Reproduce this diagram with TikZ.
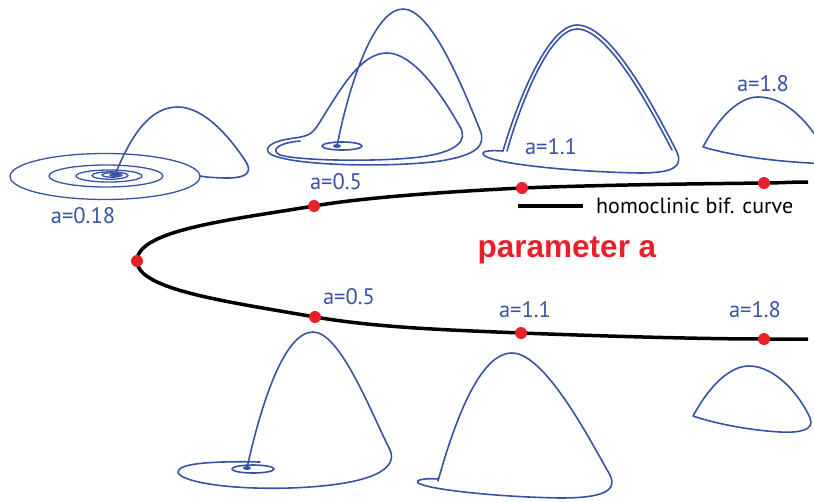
\documentclass[tikz,border=0pt]{standalone}
\usepackage{fontspec}
\setsansfont{PT Sans}
\newfontfamily\helvbold{Liberation Sans}
\usetikzlibrary{positioning}
\definecolor{orbitblue}{HTML}{3953A4}
\definecolor{dotred}{HTML}{E8202A}

\begin{document}
\begin{tikzpicture}[
  x=1pt, y=-1pt,
  orbit/.style={draw=orbitblue, line width=1.6pt, line join=round, line cap=round},
  spiral/.style={draw=orbitblue, line width=1.3pt},
  avalue/.style={text=orbitblue, font=\sffamily\fontsize{22.5}{26}\selectfont, inner sep=0pt},
  bifdot/.style={circle, fill=dotred, inner sep=0pt, minimum size=12pt},
  bifcurve/.style={draw=black, line width=3.5pt},
]
  \useasboundingbox (0,0) rectangle (814,501);

  % points on the homoclinic curve
  \coordinate (uEnd) at (808,182);
  \coordinate (u18)  at (764,183);
  \coordinate (u11)  at (522,188);
  \coordinate (u05)  at (314,206);
  \coordinate (tip)  at (137,261);
  \coordinate (l05)  at (315,317);
  \coordinate (l11)  at (521,333);
  \coordinate (l18)  at (764,339);
  \coordinate (lEnd) at (808,339);

  \draw[bifcurve] (uEnd) .. controls (790,182) and (780,183) .. (u18)
    .. controls (680,184) and (600,185) .. (u11)
    .. controls (440,192) and (360,198) .. (u05)
    .. controls (230,220) and (137,230) .. (tip)
    .. controls (137,290) and (230,302) .. (l05)
    .. controls (380,328) and (450,330) .. (l11)
    .. controls (600,336) and (700,339) .. (l18) -- (lEnd);

  \foreach \p in {u18, u11, u05, tip, l05, l11, l18}
    \node[bifdot] (dot-\p) at (\p) {};

  % legend
  \coordinate (legStart) at (518,206);
  \coordinate (legEnd) at (583,206);
  \draw[bifcurve] (legStart) -- (legEnd);
  \node[anchor=west, inner sep=0pt, font=\sffamily\fontsize{22}{26}\selectfont,
    right=13pt of legEnd] (legend) {homoclinic bif. curve};

  \node[text=dotred, font=\helvbold\bfseries\fontsize{31.5}{36}\selectfont,
    inner sep=0pt] (param) at (567,250) {parameter a};

  % orbit a=0.18
  \draw[spiral] (105,176.5) ellipse[x radius=95, y radius=23];
  \draw[spiral] (106,176) ellipse[x radius=57, y radius=11];
  \draw[spiral] (109,176) ellipse[x radius=33, y radius=6];
  \draw[spiral] (110,175.5) ellipse[x radius=18, y radius=3.7];
  \draw[spiral] (112,175) ellipse[x radius=10, y radius=2.2];
  \fill[orbitblue] (115,175) ellipse[x radius=6, y radius=2];
  \draw[orbit] (115,175) .. controls (135,125) and (155,107) .. (178,107)
    .. controls (205,107) and (232,140) .. (246,162)
    .. controls (253,173) and (245,178) .. (228,178)
    .. controls (215,178) and (205,177) .. (200,176);

  % orbit a=0.5, upper
  \draw[orbit] (337,146) .. controls (350,80) and (375,9) .. (403,9)
    .. controls (430,9) and (460,80) .. (480,130)
    .. controls (486,145) and (478,155) .. (440,161)
    .. controls (400,167) and (300,167) .. (272,155)
    .. controls (262,150) and (268,141) .. (295,138)
    .. controls (308,136) and (312,134) .. (318,125)
    .. controls (340,90) and (360,53) .. (387,53)
    .. controls (415,53) and (445,100) .. (460,127)
    .. controls (468,140) and (458,152) .. (420,157)
    .. controls (380,162) and (300,161) .. (280,155)
    .. controls (270,150) and (278,143) .. (300,141);
  \draw[orbit] (342,146) ellipse[x radius=20, y radius=4];
  \fill[orbitblue] (337,146) ellipse[x radius=4, y radius=2];

  % orbit a=1.1, upper
  \draw[orbit] (503,151) .. controls (518,100) and (548,25) .. (577,25)
    .. controls (610,25) and (650,100) .. (676,150)
    .. controls (684,166) and (675,173) .. (640,173)
    .. controls (580,172) and (500,165) .. (485,156)
    .. controls (478,151) and (490,150) .. (503,151);
  \draw[orbit] (507,151) .. controls (521,102) and (550,29) .. (577,29)
    .. controls (607,29) and (646,100) .. (672,150);

  % orbit a=1.8, upper
  \draw[orbit] (703,147) .. controls (720,115) and (740,97) .. (758,97)
    .. controls (788,97) and (810,125) .. (825,150)
    .. controls (832,162) and (825,165) .. (810,163)
    .. controls (770,161) and (730,155) .. (703,147);

  % orbit a=0.5, lower
  \draw[orbit] (247,468) .. controls (262,400) and (285,332) .. (313,332)
    .. controls (340,332) and (370,410) .. (390,450)
    .. controls (398,468) and (375,485) .. (290,488)
    .. controls (220,490) and (178,480) .. (178,472)
    .. controls (178,463) and (215,461) .. (260,462);
  \draw[orbit] (253,469) ellipse[x radius=21, y radius=4];
  \fill[orbitblue] (247,468) ellipse[x radius=4, y radius=2];

  % orbit a=1.1, lower
  \draw[orbit] (438,481) .. controls (455,420) and (480,353) .. (512,353)
    .. controls (545,353) and (590,440) .. (610,475)
    .. controls (618,492) and (600,498) .. (560,498)
    .. controls (500,497) and (430,490) .. (418,483)
    .. controls (414,480) and (425,478) .. (438,479);

  % orbit a=1.8, lower
  \draw[orbit] (693,416) .. controls (710,385) and (730,366) .. (749,366)
    .. controls (775,366) and (800,395) .. (810,418)
    .. controls (815,430) and (800,433) .. (780,432)
    .. controls (745,430) and (710,422) .. (693,416) -- cycle;

  % parameter values
  \node[avalue] (lbl018)   at (83,216)  {a=0.18};
  \node[avalue] (lblUp05)  at (336,182) {a=0.5};
  \node[avalue] (lblUp11)  at (551,147) {a=1.1};
  \node[avalue] (lblUp18)  at (763,84)  {a=1.8};
  \node[avalue] (lblLow05) at (349,297) {a=0.5};
  \node[avalue] (lblLow11) at (525,310) {a=1.1};
  \node[avalue] (lblLow18) at (755,310) {a=1.8};
\end{tikzpicture}
\end{document}
